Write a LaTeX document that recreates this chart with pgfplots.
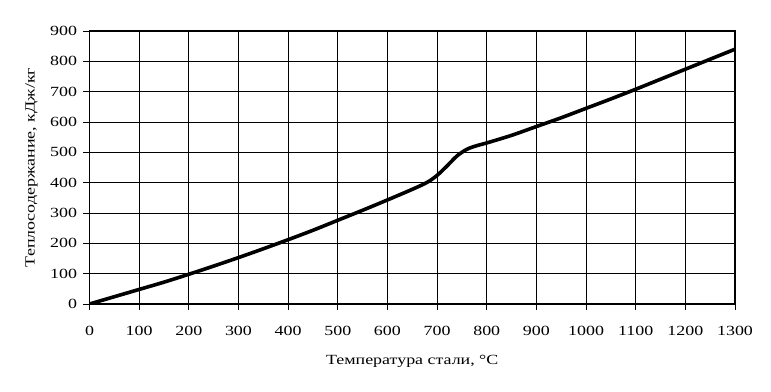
\documentclass[border=0pt]{standalone}
\usepackage{pgfplots}
\pgfplotsset{compat=1.18}
\usepackage{fontspec}
\setmainfont{Liberation Serif}[FakeStretch=1.28]
\begin{document}
\begin{tikzpicture}
\begin{axis}[
  scale only axis,
  width=645.5pt, height=273pt,
  xmin=0, xmax=1300, ymin=0, ymax=900,
  xtick={0,100,...,1300}, ytick={0,100,...,900},
  grid=major,
  major grid style={black, line width=0.9pt},
  axis line style={black, line width=1.8pt},
  tick style={black, line width=0.9pt},
  tick align=outside,
  major tick length=6pt,
  xtick pos=left, ytick pos=left,
  /pgf/number format/assume math mode=true,
  /pgf/number format/1000 sep={},
  tick label style={font=\fontsize{14}{16}\selectfont},
  xticklabel style={yshift=-13pt},
  yticklabel style={xshift=-3pt},
  label style={font=\fontsize{14}{16}\selectfont},
  xlabel={Температура стали, °C},
  ylabel={Теплосодержание, кДж/кг},
  xlabel style={at={(axis description cs:0.5,-0.21)}, anchor=center},
  ylabel style={at={(axis description cs:-0.09,0.5)}, anchor=center},
]
\addplot[black, line width=3.6pt, smooth, tension=0.5] coordinates {
(0,0) (50,24) (100,48) (150,72) (200,98) (250,125) (300,153) (350,182)
(400,212) (450,243) (500,276) (550,309) (600,343) (650,378) (680,401)
(700,424) (720,455) (740,488) (760,510) (780,522) (800,531) (850,556)
(900,585) (950,614) (1000,645) (1050,676) (1100,708) (1150,741)
(1200,774) (1250,807) (1300,840)
};
\end{axis}
\useasboundingbox ([shift={(-89.5pt,-88pt)}]current axis.south west) rectangle ([shift={(36pt,31pt)}]current axis.north east);
\end{tikzpicture}
\end{document}
